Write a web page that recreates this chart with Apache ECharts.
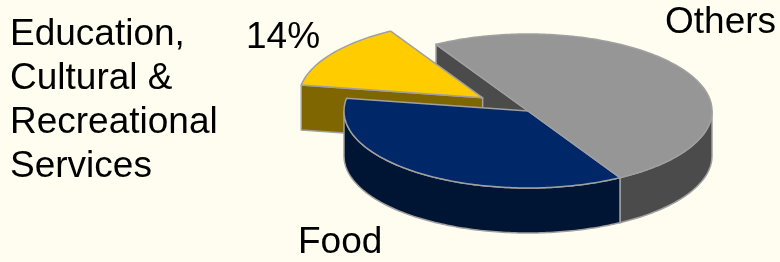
<!DOCTYPE html>
<html>
<head>
<meta charset="utf-8">
<script src="https://cdn.jsdelivr.net/npm/echarts@6/dist/echarts.min.js"></script>
<style>
  html, body { margin: 0; padding: 0; background: #FFFDF0; }
  #chart { width: 780px; height: 262px; }
</style>
</head>
<body>
<div id="chart"></div>
<script>
// data
var categories = ["Education, Cultural & Recreational Services", "Food", "Others"];
var values = [14, 36, 50];
var labelLines = [["Education,", "Cultural &", "Recreational", "Services"], ["Food"], ["Others"]];

// look of the 3d pie
var topColors = ["#FFCC00", "#002868", "#969696"];
var sideColors = ["#806600", "#001533", "#4B4B4B"];
var explode = [0.3, 0, 0];
var startAngle = 120;
var cx = 528, cy = 111, rx = 184, ry = 77, depth = 45;
var RAD = Math.PI / 180;

var total = values.reduce(function (s, v) { return s + v; }, 0);
var starts = [];
var acc = startAngle;
values.forEach(function (v) { starts.push(acc); acc += v / total * 360; });

function meanY(pts) {
  return pts.reduce(function (s, p) { return s + p[1]; }, 0) / pts.length;
}

function renderItem(params, api) {
  var i = params.dataIndex;
  var a0 = starts[i];
  var a1 = a0 + api.value(0) / total * 360;
  var mid = (a0 + a1) / 2 * RAD;
  var ox = cx + explode[i] * rx * Math.cos(mid);
  var oy = cy - explode[i] * ry * Math.sin(mid);
  function P(deg, d) {
    return [ox + rx * Math.cos(deg * RAD), oy - ry * Math.sin(deg * RAD) + (d || 0)];
  }
  function arc(from, to, d) {
    var pts = [];
    var n = Math.max(2, Math.ceil(Math.abs(to - from)));
    for (var k = 0; k <= n; k++) pts.push(P(from + (to - from) * k / n, d));
    return pts;
  }
  var children = [];
  function poly(pts, fill, z2) {
    children.push({
      type: "polygon",
      z2: z2,
      shape: { points: pts },
      style: { fill: fill, stroke: "#A0A0A0", lineWidth: 1.5, lineJoin: "round" }
    });
  }
  // outer wall, front half only
  for (var k = -1; k <= 1; k++) {
    var lo = Math.max(a0, 180 + 360 * k), hi = Math.min(a1, 360 + 360 * k);
    if (hi > lo) {
      var wall = arc(lo, hi, 0).concat(arc(hi, lo, depth));
      poly(wall, sideColors[i], meanY(wall));
    }
  }
  // cut faces that face the viewer
  function face(deg) {
    var p = P(deg, 0);
    var pts = [[ox, oy], p, [p[0], p[1] + depth], [ox, oy + depth]];
    poly(pts, sideColors[i], meanY(pts));
  }
  if (Math.cos(a0 * RAD) > 0) face(a0);
  if (Math.cos(a1 * RAD) < 0) face(a1);
  // top
  poly([[ox, oy]].concat(arc(a0, a1, 0)), topColors[i], 1000);
  return { type: "group", children: children };
}

var font = { fontSize: 37, fontFamily: "Liberation Sans, Arial, sans-serif", lineHeight: 44, fill: "#000000" };
function label(text, left, top) {
  return {
    type: "text", left: left, top: top,
    style: Object.assign({ text: text }, font)
  };
}

var option = {
  backgroundColor: "#FFFDF0",
  animation: false,
  graphic: [
    label(labelLines[0].join("\n"), 10, 13),
    label(Math.round(values[0] / total * 100) + "%", 246, 16),
    label(labelLines[1].join("\n"), 298, 221),
    label(labelLines[2].join("\n"), 665, 1)
  ],
  series: [{
    type: "custom",
    coordinateSystem: "none",
    renderItem: renderItem,
    data: values.map(function (v, i) { return { name: categories[i], value: [v] }; })
  }]
};

var myChart = echarts.init(document.getElementById("chart"));
myChart.setOption(option);
</script>
</body>
</html>
